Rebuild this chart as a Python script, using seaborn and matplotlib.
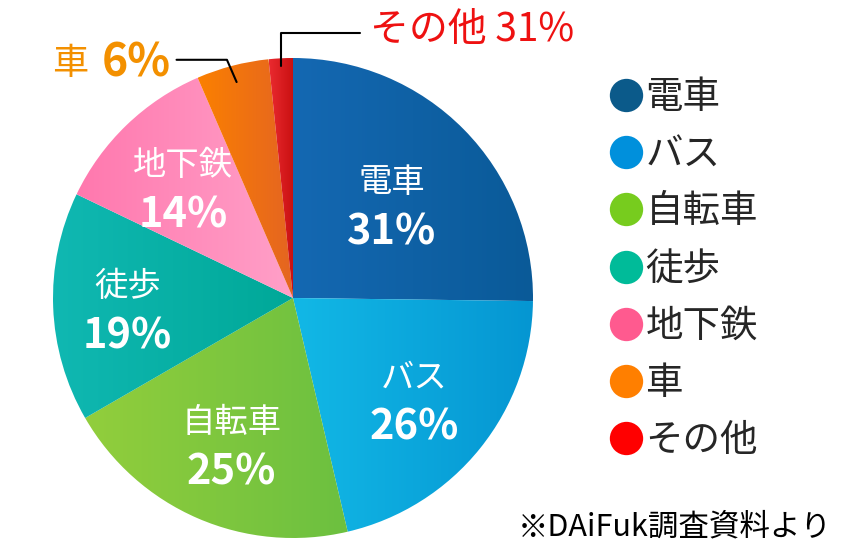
import numpy as np
import matplotlib
matplotlib.use("Agg")
import matplotlib.pyplot as plt
import seaborn as sns
from matplotlib.colors import LinearSegmentedColormap
from matplotlib.lines import Line2D

# ---- data ----
categories = ["電車", "バス", "自転車", "徒歩", "地下鉄", "車", "その他"]
slice_values = [31, 26, 25, 19, 14, 6, 2]
pct_labels = ["31%", "26%", "25%", "19%", "14%", "6%", "31%"]
legend_colors = ["#0b5a8a", "#0090dc", "#77cc1e", "#00bb99", "#ff5a8f", "#ff7f00", "#ff0000"]
grad_left = ["#1468b2", "#12b8e6", "#92ce3c", "#10b8b2", "#ff78ae", "#fb8000", "#ea2a30"]
grad_right = ["#0a5a98", "#0596d2", "#6cc040", "#00a898", "#ffa0c8", "#e46422", "#c81010"]
source_note = "※DAiFuk調査資料より"

sns.set_theme(style="white")
plt.rcParams['font.family'] = ['Noto Sans CJK JP', 'DejaVu Sans']

W, H = 860, 560
fig = plt.figure(figsize=(W / 100, H / 100), dpi=100)
R = 240
cx, cy = 293, 298
ax = fig.add_axes([(cx - R) / W, (H - cy - R) / H, 2 * R / W, 2 * R / H])

wedges, _ = ax.pie(slice_values, startangle=90, counterclock=False, radius=1,
                   wedgeprops=dict(linewidth=0))
grad = np.linspace(0, 1, 256).reshape(1, -1)
for w, cl, cr in zip(wedges, grad_left, grad_right):
    ext = w.get_path().get_extents()
    cmap = LinearSegmentedColormap.from_list("g", [cl, cr])
    im = ax.imshow(grad, cmap=cmap, extent=[ext.x0, ext.x1, ext.y0, ext.y1],
                   aspect='auto', interpolation='bilinear', zorder=1)
    im.set_clip_path(w)
    w.set_facecolor('none')
ax.set_xlim(-1, 1)
ax.set_ylim(-1, 1)
ax.axis('off')

# in-slice labels
rfac = [0.58, 0.65, 0.645, 0.69, 0.66]
dy = 25 / R
shift = -7 / R
for i in range(5):
    w = wedges[i]
    th = np.deg2rad((w.theta1 + w.theta2) / 2)
    x, y = rfac[i] * np.cos(th), rfac[i] * np.sin(th) + shift
    ax.text(x, y + dy, categories[i], ha='center', va='center', color='white',
            fontsize=24, zorder=5)
    ax.text(x, y - dy, pct_labels[i], ha='center', va='center', color='white',
            fontsize=30, fontweight='bold', zorder=5)

# leader line + label for 車
w = wedges[5]
th = np.deg2rad((w.theta1 + w.theta2) / 2)
p0 = (0.93 * np.cos(th), 0.93 * np.sin(th))
p1 = (1.03 * np.cos(np.deg2rad(105.5)), 1.03 * np.sin(np.deg2rad(105.5)))
ax.plot([p0[0], p1[0], p1[0] - 0.21], [p0[1], p1[1], p1[1]], color='black',
        lw=1.5, clip_on=False, zorder=6)
ax.text(p1[0] - 0.235, p1[1] - 4 / R, pct_labels[5], ha='right', va='center',
        color='#f39000', fontsize=32, fontweight='bold', clip_on=False)
ax.text(p1[0] - 0.58, p1[1] - 4 / R, categories[5], ha='right', va='center',
        color='#f39000', fontsize=26, clip_on=False)

# leader line + label for その他
w = wedges[6]
th = np.deg2rad((w.theta1 + w.theta2) / 2)
q0 = (0.967 * np.cos(th), 0.967 * np.sin(th))
ax.plot([q0[0], q0[0], q0[0] + 0.33], [q0[1], 1.104, 1.104], color='black',
        lw=1.5, clip_on=False, zorder=6)
ax.text(q0[0] + 0.37, 1.115, categories[6] + " " + pct_labels[6], ha='left',
        va='center', color='#ee1111', fontsize=28, clip_on=False)

# legend
handles = [Line2D([0], [0], marker='o', linestyle='none', markersize=24,
                  markerfacecolor=c, markeredgewidth=0) for c in legend_colors]
fig.legend(handles, categories, loc='upper left', bbox_to_anchor=(608 / W, 1 - 78 / H),
           frameon=False, fontsize=27, handletextpad=0.05, handlelength=0.95,
           labelspacing=0.486, borderpad=0, borderaxespad=0)

fig.text(832 / W, 1 - 527 / H, source_note, ha='right', va='center',
         fontsize=22, color='black')

fig.savefig("out.png", dpi=100)
